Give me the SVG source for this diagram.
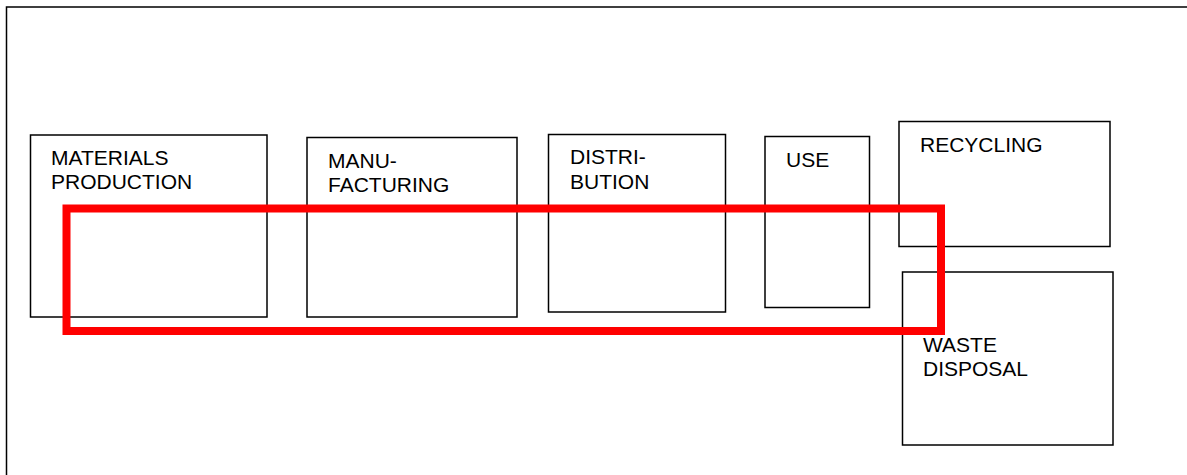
<svg xmlns="http://www.w3.org/2000/svg" width="1187" height="475" viewBox="0 0 1187 475">
<style>
.box{fill:#fff;stroke:#000;stroke-width:1.5}
.lbl{font-family:"Liberation Sans",Arial,sans-serif;font-size:21px;fill:#000}
</style>
<rect x="0" y="0" width="1187" height="475" fill="#fff"/>
<path d="M6.5 480 V7 H1190" fill="none" stroke="#000" stroke-width="1.5"/>
<g id="materials"><rect class="box" x="30.5" y="135" width="236.5" height="182"/><text class="lbl" x="51" y="165">MATERIALS</text><text class="lbl" x="51" y="189">PRODUCTION</text></g>
<g id="manufacturing"><rect class="box" x="307" y="137.5" width="210" height="179.5"/><text class="lbl" x="328" y="168">MANU-</text><text class="lbl" x="328" y="192">FACTURING</text></g>
<g id="distribution"><rect class="box" x="548.5" y="134.5" width="177" height="177.5"/><text class="lbl" x="570" y="164">DISTRI-</text><text class="lbl" x="570" y="189">BUTION</text></g>
<g id="use"><rect class="box" x="765" y="136.5" width="104.5" height="171"/><text class="lbl" x="786" y="167">USE</text></g>
<g id="recycling"><rect class="box" x="899" y="121.5" width="211" height="125"/><text class="lbl" x="920" y="152">RECYCLING</text></g>
<g id="waste"><rect class="box" x="902.5" y="272" width="210.5" height="173"/><text class="lbl" x="923" y="352">WASTE</text><text class="lbl" x="923" y="376">DISPOSAL</text></g>
<g id="connectors"><rect x="66.5" y="208.5" width="874.5" height="122.5" fill="none" stroke="#f00" stroke-width="8"/></g>
</svg>
